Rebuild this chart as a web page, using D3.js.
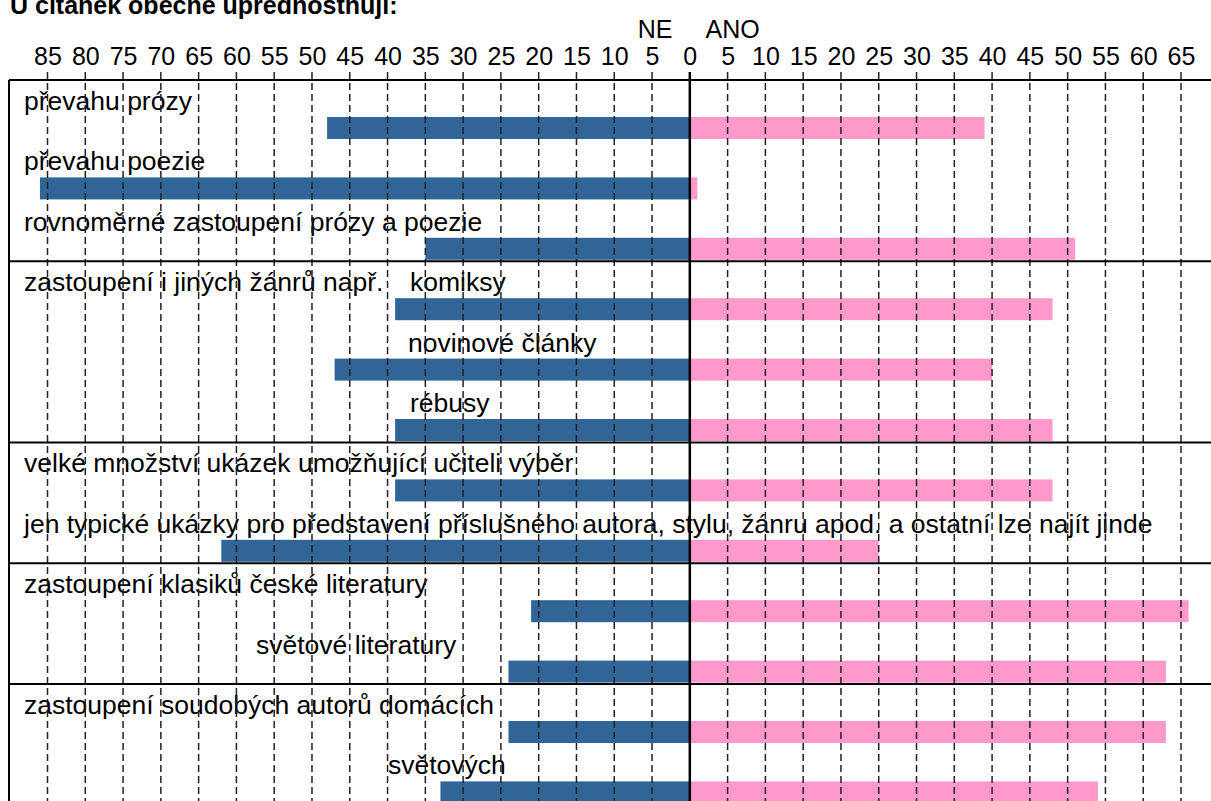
<!DOCTYPE html>
<html><head><meta charset="utf-8">
<script src="https://cdn.jsdelivr.net/npm/d3@7"></script>
<style>
html,body{margin:0;padding:0;background:#fff;overflow:hidden;}
text{font-family:"Liberation Sans",Arial,sans-serif;fill:#000;}
</style></head>
<body>
<svg id="chart" width="1211" height="801"></svg>
<script>
// ---- data ----
const title = "U čítanek obecně upřednostňují:";
const sideLabels = ["NE", "ANO"];
const categories = [
  "převahu prózy",
  "převahu poezie",
  "rovnoměrné zastoupení prózy a poezie",
  "komiksy",
  "novinové články",
  "rébusy",
  "velké množství ukázek umožňující učiteli výběr",
  "jen typické ukázky pro představení příslušného autora, stylu, žánru apod. a ostatní lze najít jinde",
  "zastoupení klasiků české literatury",
  "světové literatury",
  "zastoupení soudobých autorů domácích",
  "světových"
];
const groupPrefix = ["", "", "", "zastoupení i jiných žánrů např.", "", "", "", "", "", "", "", ""];
const valuesNE  = [48, 86, 35, 39, 47, 39, 39, 62, 21, 24, 24, 33];
const valuesANO = [39,  1, 51, 48, 40, 48, 48, 25, 66, 63, 63, 54];
const tickValues = [-85,-80,-75,-70,-65,-60,-55,-50,-45,-40,-35,-30,-25,-20,-15,-10,-5,0,5,10,15,20,25,30,35,40,45,50,55,60,65];
const groupEnds = [2, 5, 7, 9]; // separators after these row indices

// ---- layout ----
const W = 1211, H = 801;
const frameLeft = 9, frameTop = 80;
const svg = d3.select("#chart");

const x = d3.scaleLinear().domain([-85, 65]).range([47.5, 1181]);
const y = d3.scaleBand().domain(d3.range(categories.length)).range([frameTop, frameTop + 60.4 * categories.length]).padding(0);
const barH = 22, barOff = 37;
const labelIndent = {3: 410, 4: 408, 5: 410, 9: 256, 11: 388};
const labelSize = 26.5;

const blue = "#316598", pink = "#FF99CC";

// bars
const g = svg.append("g");
g.selectAll("rect.ne").data(valuesNE).join("rect").attr("class","ne")
  .attr("x", d => x(-d)).attr("width", d => x(0) - x(-d))
  .attr("y", (d,i) => y(i) + barOff).attr("height", barH).attr("fill", blue);
g.selectAll("rect.ano").data(valuesANO).join("rect").attr("class","ano")
  .attr("x", x(0)).attr("width", d => x(d) - x(0))
  .attr("y", (d,i) => y(i) + barOff).attr("height", barH).attr("fill", pink);

// labels
svg.append("g").selectAll("text.cat").data(categories).join("text").attr("class","cat")
  .attr("x", (d,i) => labelIndent[i] !== undefined ? labelIndent[i] : 24)
  .attr("y", (d,i) => y(i) + barOff - 7)
  .attr("font-size", labelSize).text(d => d);
svg.append("g").selectAll("text.pre").data(groupPrefix.map((p,i)=>({p,i})).filter(d=>d.p)).join("text").attr("class","pre")
  .attr("x", 24).attr("y", d => y(d.i) + barOff - 7)
  .attr("font-size", labelSize).text(d => d.p);

// tick labels (axis)
const axis = d3.axisTop(x).tickValues(tickValues).tickSize(0).tickFormat(d => Math.abs(d));
const ax = svg.append("g").attr("transform", `translate(0,${frameTop - 15})`).call(axis);
ax.select(".domain").remove();
ax.selectAll("text").attr("font-size", 25).attr("font-family", "Liberation Sans, Arial, sans-serif").attr("fill", "#000").attr("dy", 0).attr("y", 0);

// gridlines
svg.append("g").selectAll("line.grid").data(tickValues.filter(v => v !== 0)).join("line").attr("class","grid")
  .attr("x1", d => x(d)).attr("x2", d => x(d))
  .attr("y1", frameTop - 8).attr("y2", H)
  .attr("stroke", "#222").attr("stroke-width", 1.5).attr("stroke-dasharray", "7,4");

// zero line
svg.append("line").attr("x1", x(0)).attr("x2", x(0)).attr("y1", frameTop - 8).attr("y2", H)
  .attr("stroke", "#000").attr("stroke-width", 2.5);

// frame and separators
svg.append("line").attr("x1", frameLeft).attr("x2", W).attr("y1", frameTop).attr("y2", frameTop).attr("stroke","#000").attr("stroke-width",2);
svg.append("line").attr("x1", frameLeft).attr("x2", frameLeft).attr("y1", frameTop).attr("y2", H).attr("stroke","#000").attr("stroke-width",2);
svg.append("g").selectAll("line.sep").data(groupEnds).join("line").attr("class","sep")
  .attr("x1", frameLeft).attr("x2", W)
  .attr("y1", d => y(d) + y.bandwidth()).attr("y2", d => y(d) + y.bandwidth())
  .attr("stroke","#000").attr("stroke-width",2);

// side labels
svg.append("text").attr("x", x(-5) + 3).attr("y", 38).attr("text-anchor","middle").attr("font-size",25).text(sideLabels[0]);
svg.append("text").attr("x", x(5) + 5).attr("y", 38).attr("text-anchor","middle").attr("font-size",25).text(sideLabels[1]);

// title
svg.append("text").attr("x", 10).attr("y", 14).attr("font-size", 25).attr("font-weight","bold").text(title);
</script>
</body></html>
